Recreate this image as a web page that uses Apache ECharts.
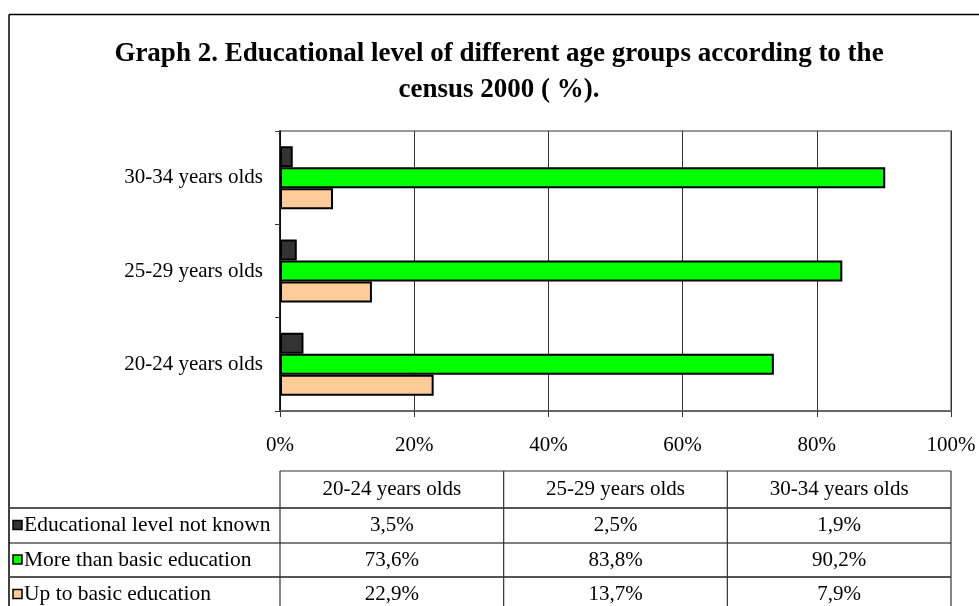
<!DOCTYPE html>
<html>
<head>
<meta charset="utf-8">
<script src="https://cdn.jsdelivr.net/npm/echarts@6/dist/echarts.min.js"></script>
<style>
  html, body { margin: 0; padding: 0; background: #fff; }
  #chart { width: 979px; height: 606px; }
</style>
</head>
<body>
<div id="chart"></div>
<script>
// Data
var categories = ["20-24 years olds", "25-29 years olds", "30-34 years olds"];
var notKnown = [3.5, 2.5, 1.9];
var moreThanBasic = [73.6, 83.8, 90.2];
var upToBasic = [22.9, 13.7, 7.9];
var seriesNames = ["Educational level not known", "More than basic education", "Up to basic education"];
var seriesColors = ["#333333", "#00ff00", "#ffcc99"];

var serif = "'Liberation Serif', 'Times New Roman', serif";

// plot area in pixels
var gridLeft = 280, gridRight = 951, gridTop = 131, gridBottom = 411;

function pct(v) {
  return v.toFixed(1).replace(".", ",") + "%";
}

// data table under the chart, built from the arrays above
function buildTable() {
  var els = [];
  var colW = (gridRight - gridLeft) / categories.length;
  var rows = [471, 508, 543, 577, 612];
  var lineColor = "#333";

  // outer frame (runs off the picture to the right and bottom)
  els.push({ type: "line", shape: { x1: 9, y1: 14.5, x2: 990, y2: 14.5 }, style: { stroke: "#000", lineWidth: 1.5 } });
  els.push({ type: "line", shape: { x1: 9, y1: 14.5, x2: 9, y2: 620 }, style: { stroke: "#000", lineWidth: 1.5 } });

  // header top line
  els.push({ type: "line", shape: { x1: gridLeft, y1: rows[0], x2: gridRight, y2: rows[0] }, style: { stroke: lineColor, lineWidth: 1.2 } });
  // row lines
  for (var r = 1; r < rows.length - 1; r++) {
    els.push({ type: "line", shape: { x1: 9, y1: rows[r], x2: gridRight, y2: rows[r] }, style: { stroke: r % 2 ? "#555" : "#000", lineWidth: r % 2 ? 1.8 : 1.2 } });
  }
  // column lines
  for (var c = 0; c <= categories.length; c++) {
    var x = gridLeft + c * colW;
    els.push({ type: "line", shape: { x1: x, y1: rows[0], x2: x, y2: 620 }, style: { stroke: lineColor, lineWidth: 1.2 } });
  }

  // header
  categories.forEach(function (cat, i) {
    els.push({
      type: "text", x: gridLeft + (i + 0.5) * colW, y: (rows[0] + rows[1]) / 2,
      style: { text: cat, fontFamily: serif, fontSize: 21, fill: "#000", align: "center", verticalAlign: "middle" }
    });
  });

  // body rows with legend keys
  var rowData = [notKnown, moreThanBasic, upToBasic];
  rowData.forEach(function (vals, r) {
    var cy = (rows[r + 1] + rows[r + 2]) / 2;
    els.push({
      type: "rect", shape: { x: 13, y: cy - 5, width: 9, height: 9 },
      style: { fill: seriesColors[r], stroke: "#000", lineWidth: 1.5 }
    });
    els.push({
      type: "text", x: 24, y: cy,
      style: { text: seriesNames[r], fontFamily: serif, fontSize: 21.5, fill: "#000", align: "left", verticalAlign: "middle" }
    });
    vals.forEach(function (v, i) {
      els.push({
        type: "text", x: gridLeft + (i + 0.5) * colW, y: cy,
        style: { text: pct(v), fontFamily: serif, fontSize: 21, fill: "#000", align: "center", verticalAlign: "middle" }
      });
    });
  });
  return els;
}

var chart = echarts.init(document.getElementById("chart"), null, { renderer: "canvas" });

function barSeries(name, values, color) {
  return {
    type: "bar",
    name: name,
    data: values,
    barWidth: 21,
    barGap: "0%",
    itemStyle: { color: color, borderColor: "#000", borderWidth: 2 },
    animation: false
  };
}

var option = {
  backgroundColor: "#fff",
  animation: false,
  title: {
    text: "Graph 2. Educational level of different age groups according to the\ncensus 2000 ( %).",
    left: 494,
    textAlign: "center",
    top: 31,
    textStyle: {
      fontFamily: serif,
      fontWeight: "bold",
      fontSize: 27,
      lineHeight: 36,
      color: "#000"
    }
  },
  grid: {
    left: gridLeft,
    right: 979 - gridRight,
    top: gridTop,
    bottom: 606 - gridBottom,
    show: true,
    borderColor: "#999",
    borderWidth: 2,
    containLabel: false
  },
  xAxis: {
    type: "value",
    min: 0,
    max: 100,
    interval: 20,
    axisLine: { show: true, lineStyle: { color: "#666", width: 2 } },
    axisTick: { show: true, length: 6, lineStyle: { color: "#333", width: 1 } },
    axisLabel: {
      formatter: "{value}%",
      margin: 24,
      fontFamily: serif,
      fontSize: 21,
      color: "#000"
    },
    splitLine: { show: true, lineStyle: { color: "#333", width: 1 } }
  },
  yAxis: {
    type: "category",
    data: categories,
    axisLine: { show: true, lineStyle: { color: "#000", width: 1.5 } },
    axisTick: { show: true, length: 5, lineStyle: { color: "#333", width: 1 } },
    axisLabel: {
      margin: 17,
      fontFamily: serif,
      fontSize: 21,
      color: "#000"
    },
    splitLine: { show: false }
  },
  series: [
    barSeries(seriesNames[0], notKnown, seriesColors[0]),
    barSeries(seriesNames[1], moreThanBasic, seriesColors[1]),
    barSeries(seriesNames[2], upToBasic, seriesColors[2])
  ],
  graphic: buildTable()
};

chart.setOption(option);
</script>
</body>
</html>
